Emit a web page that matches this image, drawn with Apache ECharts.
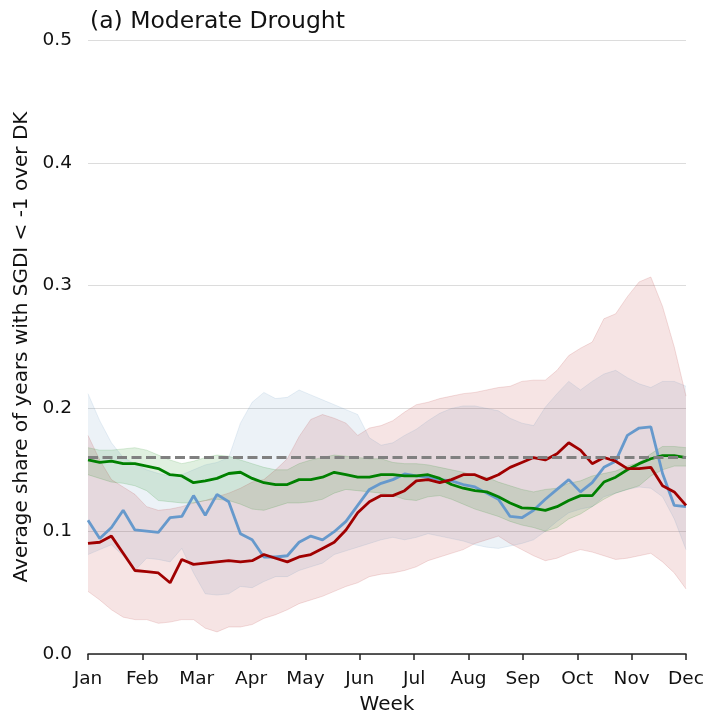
<!DOCTYPE html>
<html>
<head>
<meta charset="utf-8">
<script src="https://cdn.jsdelivr.net/npm/echarts@6/dist/echarts.min.js"></script>
<style>html,body{margin:0;padding:0;background:#fff;}#c{width:708px;height:714px;}</style>
</head>
<body>
<div id="c"></div>
<script>
const months = ['Jan','Feb','Mar','Apr','May','Jun','Jul','Aug','Sep','Oct','Nov','Dec'];
const weeks = Array.from({length: 52}, (_, i) => i + 1);
const threshold = 0.159;

const redLine = [0.090,0.091,0.096,0.082,0.068,0.067,0.066,0.058,0.077,0.073,0.074,0.075,0.076,0.075,0.076,0.081,0.078,0.075,0.079,0.081,0.086,0.091,0.101,0.115,0.124,0.129,0.129,0.133,0.141,0.142,0.1395,0.142,0.146,0.146,0.142,0.146,0.152,0.156,0.160,0.158,0.163,0.172,0.166,0.155,0.160,0.157,0.151,0.151,0.152,0.137,0.132,0.121];
const blueLine = [0.109,0.094,0.103,0.117,0.101,0.100,0.099,0.111,0.112,0.129,0.113,0.130,0.124,0.098,0.093,0.079,0.079,0.080,0.091,0.096,0.093,0.0996,0.108,0.121,0.134,0.139,0.142,0.1466,0.145,0.144,0.142,0.141,0.138,0.136,0.131,0.126,0.112,0.111,0.117,0.126,0.134,0.142,0.132,0.1395,0.152,0.157,0.178,0.184,0.185,0.147,0.121,0.120];
const greenLine = [0.158,0.156,0.157,0.155,0.155,0.153,0.151,0.146,0.145,0.1395,0.141,0.143,0.147,0.148,0.143,0.1395,0.138,0.138,0.142,0.142,0.144,0.148,0.146,0.144,0.144,0.146,0.146,0.145,0.145,0.146,0.143,0.138,0.135,0.133,0.132,0.128,0.123,0.119,0.1186,0.117,0.120,0.125,0.129,0.129,0.140,0.144,0.150,0.155,0.159,0.1615,0.1615,0.160];

const blueLo = [0.081,0.085,0.089,0.080,0.068,0.078,0.077,0.075,0.086,0.066,0.049,0.048,0.049,0.055,0.054,0.059,0.063,0.063,0.068,0.071,0.074,0.081,0.084,0.087,0.090,0.093,0.095,0.093,0.095,0.098,0.096,0.094,0.092,0.089,0.087,0.086,0.088,0.090,0.093,0.100,0.108,0.115,0.118,0.120,0.128,0.131,0.134,0.136,0.135,0.128,0.110,0.085];
const blueHi = [0.212,0.190,0.172,0.160,0.155,0.150,0.147,0.145,0.146,0.150,0.154,0.156,0.160,0.188,0.205,0.213,0.208,0.209,0.215,0.211,0.207,0.203,0.199,0.195,0.176,0.170,0.172,0.178,0.183,0.190,0.196,0.200,0.202,0.202,0.200,0.198,0.192,0.188,0.186,0.201,0.212,0.222,0.215,0.222,0.228,0.231,0.225,0.220,0.217,0.222,0.222,0.218];
const greenLo = [0.146,0.143,0.140,0.139,0.137,0.133,0.125,0.124,0.123,0.123,0.125,0.126,0.125,0.122,0.118,0.117,0.120,0.123,0.123,0.124,0.126,0.131,0.134,0.133,0.132,0.131,0.129,0.126,0.125,0.128,0.129,0.126,0.122,0.118,0.115,0.112,0.108,0.105,0.103,0.100,0.103,0.110,0.114,0.120,0.126,0.131,0.134,0.137,0.145,0.150,0.153,0.153];
const greenHi = [0.168,0.166,0.166,0.167,0.168,0.166,0.162,0.158,0.155,0.157,0.160,0.162,0.161,0.158,0.155,0.152,0.150,0.150,0.155,0.158,0.160,0.162,0.161,0.160,0.159,0.159,0.156,0.155,0.155,0.154,0.152,0.150,0.148,0.145,0.144,0.140,0.137,0.134,0.132,0.134,0.135,0.139,0.141,0.145,0.147,0.149,0.153,0.156,0.163,0.169,0.169,0.168];
const redLo = [0.051,0.044,0.036,0.030,0.028,0.028,0.025,0.026,0.028,0.028,0.021,0.018,0.022,0.022,0.024,0.029,0.032,0.036,0.041,0.044,0.047,0.051,0.055,0.058,0.063,0.065,0.066,0.068,0.071,0.076,0.079,0.082,0.085,0.090,0.093,0.096,0.090,0.085,0.080,0.076,0.078,0.082,0.085,0.083,0.080,0.077,0.078,0.080,0.082,0.075,0.066,0.053];
const redHi = [0.178,0.158,0.142,0.136,0.130,0.120,0.117,0.118,0.120,0.123,0.125,0.128,0.131,0.135,0.140,0.142,0.150,0.159,0.177,0.191,0.195,0.192,0.188,0.178,0.184,0.186,0.190,0.197,0.203,0.205,0.208,0.210,0.212,0.213,0.215,0.217,0.218,0.222,0.223,0.223,0.231,0.243,0.249,0.254,0.273,0.277,0.291,0.303,0.307,0.283,0.250,0.210];

function bandSeries(name, lo, hi, fill, edge) {
  return [
    { name: name + ' lo', type: 'line', xAxisIndex: 0, stack: name, data: lo, symbol: 'none',
      lineStyle: { width: 1, color: edge }, silent: true, z: 1 },
    { name: name + ' hi', type: 'line', xAxisIndex: 0, stack: name, data: hi.map((v, i) => +(v - lo[i]).toFixed(4)),
      symbol: 'none', lineStyle: { width: 1, color: edge }, areaStyle: { color: fill, opacity: 1 }, silent: true, z: 1 }
  ];
}

const chart = echarts.init(document.getElementById('c'), null, { renderer: 'canvas' });
const FONT = 'DejaVu Sans';
chart.setOption({
  animation: false,
  backgroundColor: '#fff',
  textStyle: { fontFamily: FONT },
  title: { text: '(a) Moderate Drought', left: 85, top: 5,
    textStyle: { fontFamily: FONT, fontSize: 23.5, fontWeight: 'normal', color: '#111' } },
  grid: { left: 88, right: 22, top: 40, bottom: 60, containLabel: false, outerBoundsMode: 'none' },
  xAxis: [
    { type: 'category', data: weeks, boundaryGap: false, show: false },
    { type: 'value', min: 0, max: 11, interval: 1, position: 'bottom',
      axisLine: { show: true, onZero: false, lineStyle: { color: '#222', width: 1.5 } },
      axisTick: { show: true, length: 6, lineStyle: { color: '#222', width: 1.5 } },
      axisLabel: { fontSize: 18.5, color: '#111', margin: 16, formatter: v => months[Math.round(v)] },
      splitLine: { show: false },
      name: 'Week', nameLocation: 'middle', nameGap: 41,
      nameTextStyle: { fontSize: 20, color: '#111', fontFamily: FONT } }
  ],
  yAxis: {
    type: 'value', min: 0, max: 0.5, interval: 0.1,
    axisLine: { show: false }, axisTick: { show: false },
    axisLabel: { fontSize: 18.5, color: '#111', margin: 16, formatter: v => v.toFixed(1) },
    splitLine: { show: true, lineStyle: { color: '#dcdcdc', width: 1 } },
    name: 'Average share of years with SGDI < -1 over DK', nameLocation: 'middle', nameGap: 54,
    nameTextStyle: { fontSize: 20, color: '#111', fontFamily: FONT }
  },
  series: [
    ...bandSeries('blueband', blueLo, blueHi, 'rgba(70,130,180,0.10)', 'rgba(70,130,180,0.12)'),
    ...bandSeries('redband', redLo, redHi, 'rgba(178,34,34,0.12)', 'rgba(178,34,34,0.14)'),
    ...bandSeries('greenband', greenLo, greenHi, 'rgba(0,128,0,0.12)', 'rgba(0,128,0,0.14)'),
    { name: 'threshold', type: 'line', xAxisIndex: 0, data: [], symbol: 'none', z: 2,
      markLine: { silent: true, symbol: 'none', label: { show: false },
        lineStyle: { type: [10, 4.5], color: '#808080', width: 3 },
        data: [{ yAxis: threshold }] } },
    { name: 'blue', type: 'line', xAxisIndex: 0, data: blueLine, symbol: 'none', z: 3,
      lineStyle: { color: '#6699cc', width: 2.8 } },
    { name: 'green', type: 'line', xAxisIndex: 0, data: greenLine, symbol: 'none', z: 3,
      lineStyle: { color: '#008000', width: 2.8 } },
    { name: 'red', type: 'line', xAxisIndex: 0, data: redLine, symbol: 'none', z: 3,
      lineStyle: { color: '#a00000', width: 2.8 } }
  ]
});
</script>
</body>
</html>
